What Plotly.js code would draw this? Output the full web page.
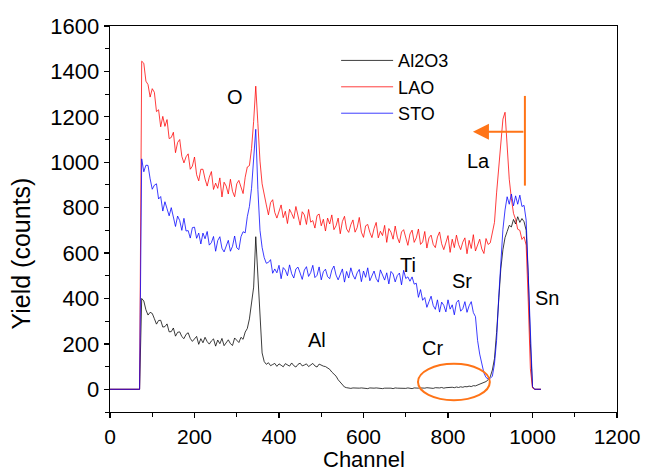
<!DOCTYPE html>
<html>
<head>
<meta charset="utf-8">
<script src="https://cdn.plot.ly/plotly-3.0.1.min.js"></script>
<style>html,body{margin:0;padding:0;background:#fff;}#chart{width:646px;height:471px;}</style>
</head>
<body>
<div id="chart"></div>
<script>
// Channel numbers (x values)
const channel = [
0,5,10,15,20,25,30,35,40,45,50,55,60,65,70,75,80,85,90,95,
100,105,110,115,120,125,130,135,140,145,150,155,160,165,170,175,180,185,190,195,
200,205,210,215,220,225,230,235,240,245,250,255,260,265,270,275,280,285,290,295,
300,305,310,315,320,325,330,335,340,345,350,355,360,365,370,375,380,385,390,395,
400,405,410,415,420,425,430,435,440,445,450,455,460,465,470,475,480,485,490,495,
500,505,510,515,520,525,530,535,540,545,550,555,560,565,570,575,580,585,590,595,
600,605,610,615,620,625,630,635,640,645,650,655,660,665,670,675,680,685,690,695,
700,705,710,715,720,725,730,735,740,745,750,755,760,765,770,775,780,785,790,795,
800,805,810,815,820,825,830,835,840,845,850,855,860,865,870,875,880,885,890,895,
900,905,910,915,920,925,930,935,940,945,950,955,960,965,970,975,980,985,990,995,
1000,1005,1010,1015,1020
];

// Al2O3 yield (counts)
const al2o3 = [
0,0,0,0,0,0,0,0,0,0,
0,0,0,0,0,400,389,350,327,339,
334,311,287,303,304,274,276,288,253,254,
270,234,251,253,232,223,242,249,224,211,
224,233,198,223,205,229,210,199,213,222,
190,217,201,224,192,206,218,201,193,226,
217,206,229,220,252,268,310,390,450,672,
480,330,160,122,110,117,104,109,114,101,
112,106,99,113,108,102,116,104,98,110,
115,103,107,112,100,109,114,103,98,111,
106,102,100,95,88,76,67,58,42,30,
18,10,7,5,4,6,5,3,5,6,
4,5,3,6,4,5,6,4,5,3,
5,6,4,5,3,6,5,4,6,5,
4,6,5,3,6,4,5,6,4,5,
7,5,6,4,7,5,6,8,5,7,
8,6,9,7,10,8,11,9,12,11,
14,12,16,15,19,20,25,28,34,42,
55,85,135,250,395,530,615,668,695,722,
715,748,728,760,735,752,738,700,500,200,
10,0,0,0,0
];

// LAO yield (counts)
const lao = [
0,0,0,0,0,0,0,0,0,0,
0,0,0,0,0,1445,1436,1357,1342,1287,
1324,1308,1223,1231,1156,1202,1158,1188,1104,1109,
1132,1042,1087,1100,1026,997,1024,1037,969,983,
1023,945,918,969,969,926,895,934,959,880,
908,885,931,847,912,895,860,925,872,848,
905,920,890,862,934,979,985,1060,1180,1335,
1170,1005,905,850,812,768,822,835,779,754,
786,812,756,784,730,793,774,752,805,759,
723,782,768,726,792,736,743,710,765,772,
720,749,697,754,728,768,703,720,754,685,
739,762,706,691,725,746,692,712,757,692,
669,720,726,691,668,708,735,667,696,677,
722,647,708,692,661,719,670,645,693,703,
669,634,684,701,647,667,706,638,649,695,
622,667,679,638,624,671,693,641,615,649,
677,603,661,624,679,638,615,648,667,597,
656,620,681,609,639,661,618,598,664,638,
645,690,735,865,970,1085,1190,1220,1060,925,
840,775,748,705,700,660,672,635,385,90,
6,0,0,0,0
];

// STO yield (counts)
const sto = [
0,0,0,0,0,0,0,0,0,0,
0,0,0,0,0,1015,958,987,986,927,
881,899,905,838,849,785,826,795,764,800,
750,717,763,743,700,753,697,699,666,712,
714,665,688,640,688,663,695,635,646,673,
608,655,672,621,605,635,656,608,630,675,
623,615,672,694,689,760,805,885,1010,1145,
880,700,625,580,555,559,571,511,530,513,
546,487,536,525,500,548,509,490,530,538,
512,484,525,540,497,514,546,492,502,539,
482,518,529,496,487,525,543,503,482,511,
530,472,519,490,535,503,485,513,528,474,
521,493,535,478,503,521,488,472,526,506,
481,513,464,519,508,473,501,512,460,524,
488,495,476,495,463,467,405,439,392,404,
361,386,410,369,352,394,340,384,370,341,
394,353,372,328,382,393,344,355,386,339,
368,386,338,320,215,155,112,72,52,46,
48,58,112,215,405,585,705,790,848,815,
860,808,852,815,855,805,810,745,515,225,
12,0,0,0,0
];

const seriesNames = ["Al2O3", "LAO", "STO"];
const seriesColors = ["rgba(0,0,0,0.85)", "rgba(255,0,0,0.85)", "rgba(0,0,255,0.85)"];

// Element labels
const labelText = ["O", "La", "Ti", "Sr", "Al", "Cr", "Sn"];
const labelX = [296, 871, 705, 833, 490, 764, 1034];
const labelY = [1288, 1007, 549, 479, 215, 180, 404];

const xTitle = "Channel";
const yTitle = "Yield (counts)";

const orange = "#ff7417";
const FONT = "Liberation Sans, Arial, Helvetica, sans-serif";

const ys = [al2o3, lao, sto];
const traces = ys.map((y, i) => ({
  x: channel, y: y, type: "scatter", mode: "lines", name: seriesNames[i],
  line: {color: seriesColors[i], width: 0.9}
}));

const annotations = labelText.map((t, i) => ({
  x: labelX[i], y: labelY[i], xref: "x", yref: "y", text: t, showarrow: false,
  font: {family: FONT, size: 20, color: "#000"}
}));
annotations.push({
  x: 859, y: 1134, ax: 982, ay: 1134, axref: "x", ayref: "y", xref: "x", yref: "y",
  text: "", showarrow: true, arrowhead: 2, arrowsize: 1.6, arrowwidth: 2, arrowcolor: orange
});
// axis titles
annotations.push({
  xref: "paper", yref: "paper", x: 0.5, y: -0.1222, xanchor: "center", yanchor: "middle",
  text: xTitle, showarrow: false, font: {family: FONT, size: 22, color: "#000"}, borderpad: 0
});
annotations.push({
  xref: "paper", yref: "paper", x: -0.176, y: 0.41, xanchor: "center", yanchor: "middle",
  text: yTitle, textangle: -90, showarrow: false, font: {family: FONT, size: 25, color: "#000"}
});

const axisCommon = {
  showline: true, linecolor: "#000", linewidth: 1.3, mirror: true,
  showgrid: false, zeroline: false,
  ticks: "outside", ticklen: 5, tickwidth: 1.3, tickcolor: "#000"
};

const layout = {
  width: 646, height: 471,
  margin: {l: 110, r: 29, t: 26, b: 59},
  paper_bgcolor: "#fff", plot_bgcolor: "#fff",
  font: {family: FONT, color: "#000"},
  xaxis: Object.assign({}, axisCommon, {
    range: [0, 1200], tickmode: "linear", tick0: 0, dtick: 200,
    tickfont: {family: FONT, size: 21, color: "#000"},
    minor: {dtick: 100, ticks: "outside", ticklen: 4, tickwidth: 1, tickcolor: "#000"}
  }),
  yaxis: Object.assign({}, axisCommon, {
    range: [-100, 1600], tickmode: "linear", tick0: 0, dtick: 200,
    tickfont: {family: FONT, size: 22, color: "#000"},
    minor: {dtick: 100, ticks: "outside", ticklen: 4, tickwidth: 1, tickcolor: "#000"}
  }),
  showlegend: true,
  legend: {x: 0.446, y: 0.958, xanchor: "left", yanchor: "top", bgcolor: "rgba(0,0,0,0)",
    font: {family: FONT, size: 18, color: "#000"}, itemwidth: 52, tracegroupgap: 0},
  shapes: [
    {type: "line", xref: "x", yref: "y", x0: 982, x1: 982, y0: 897, y1: 1292, line: {color: orange, width: 2}},
    {type: "circle", xref: "x", yref: "y", x0: 729, x1: 899, y0: -48, y1: 112, line: {color: orange, width: 2}}
  ],
  annotations: annotations
};

Plotly.newPlot("chart", traces, layout, {displayModeBar: false, staticPlot: true});
</script>
</body>
</html>
